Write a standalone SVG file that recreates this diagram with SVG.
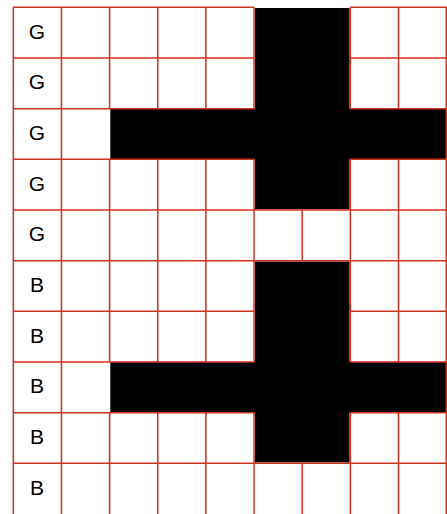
<svg xmlns="http://www.w3.org/2000/svg" width="447" height="514" viewBox="0 0 447 514">
<style>
.grid line{stroke:#d2301e;stroke-width:1.5}
.lbl{font-family:"Liberation Sans",Arial,sans-serif;font-size:21px;fill:#000;text-anchor:middle}
.blk{fill:#000}
</style>
<rect x="0" y="0" width="447" height="514" fill="#fff"/>
<g id="cells">
<path class="blk" d="M254.8 8.1H349.6V108.67H446.6V159.33H349.6V209.3H254.8V159.33H110.3V108.67H254.8Z"/>
<path class="blk" d="M254.8 261.4H349.6V362H446.6V412.67H349.6V462.6H254.8V412.67H110.3V362H254.8Z"/>
</g>
<g id="connectors" class="grid">
<line x1="13.3" y1="7.33" x2="13.3" y2="514"/>
<line x1="61.45" y1="7.33" x2="61.45" y2="514"/>
<line x1="109.6" y1="7.33" x2="109.6" y2="108.67"/>
<line x1="109.6" y1="159.33" x2="109.6" y2="362"/>
<line x1="109.6" y1="412.67" x2="109.6" y2="514"/>
<line x1="157.75" y1="7.33" x2="157.75" y2="108.67"/>
<line x1="157.75" y1="159.33" x2="157.75" y2="362"/>
<line x1="157.75" y1="412.67" x2="157.75" y2="514"/>
<line x1="205.9" y1="7.33" x2="205.9" y2="108.67"/>
<line x1="205.9" y1="159.33" x2="205.9" y2="362"/>
<line x1="205.9" y1="412.67" x2="205.9" y2="514"/>
<line x1="254.05" y1="7.33" x2="254.05" y2="108.67"/>
<line x1="254.05" y1="159.33" x2="254.05" y2="362"/>
<line x1="254.05" y1="412.67" x2="254.05" y2="514"/>
<line x1="302.2" y1="210" x2="302.2" y2="260.67"/>
<line x1="302.2" y1="463.33" x2="302.2" y2="514"/>
<line x1="350.35" y1="7.33" x2="350.35" y2="108.67"/>
<line x1="350.35" y1="159.33" x2="350.35" y2="362"/>
<line x1="350.35" y1="412.67" x2="350.35" y2="514"/>
<line x1="398.5" y1="7.33" x2="398.5" y2="108.67"/>
<line x1="398.5" y1="159.33" x2="398.5" y2="362"/>
<line x1="398.5" y1="412.67" x2="398.5" y2="514"/>
<line x1="446.3" y1="7.33" x2="446.3" y2="514"/>
<line x1="13.3" y1="7.33" x2="254.05" y2="7.33"/>
<line x1="350.35" y1="7.33" x2="447" y2="7.33"/>
<line x1="13.3" y1="58" x2="254.05" y2="58"/>
<line x1="350.35" y1="58" x2="447" y2="58"/>
<line x1="13.3" y1="108.67" x2="254.05" y2="108.67"/>
<line x1="350.35" y1="108.67" x2="447" y2="108.67"/>
<line x1="13.3" y1="159.33" x2="254.05" y2="159.33"/>
<line x1="350.35" y1="159.33" x2="447" y2="159.33"/>
<line x1="13.3" y1="210" x2="447" y2="210"/>
<line x1="13.3" y1="260.67" x2="447" y2="260.67"/>
<line x1="13.3" y1="311.33" x2="254.05" y2="311.33"/>
<line x1="350.35" y1="311.33" x2="447" y2="311.33"/>
<line x1="13.3" y1="362" x2="254.05" y2="362"/>
<line x1="350.35" y1="362" x2="447" y2="362"/>
<line x1="13.3" y1="412.67" x2="254.05" y2="412.67"/>
<line x1="350.35" y1="412.67" x2="447" y2="412.67"/>
<line x1="13.3" y1="463.33" x2="447" y2="463.33"/>
</g>
<g id="row0"><text class="lbl" x="37" y="38.5">G</text></g>
<g id="row1"><text class="lbl" x="37" y="89.2">G</text></g>
<g id="row2"><text class="lbl" x="37" y="139.8">G</text></g>
<g id="row3"><text class="lbl" x="37" y="190.5">G</text></g>
<g id="row4"><text class="lbl" x="37" y="241.2">G</text></g>
<g id="row5"><text class="lbl" x="37" y="291.8">B</text></g>
<g id="row6"><text class="lbl" x="37" y="342.5">B</text></g>
<g id="row7"><text class="lbl" x="37" y="393.2">B</text></g>
<g id="row8"><text class="lbl" x="37" y="443.8">B</text></g>
<g id="row9"><text class="lbl" x="37" y="494.5">B</text></g>
</svg>
